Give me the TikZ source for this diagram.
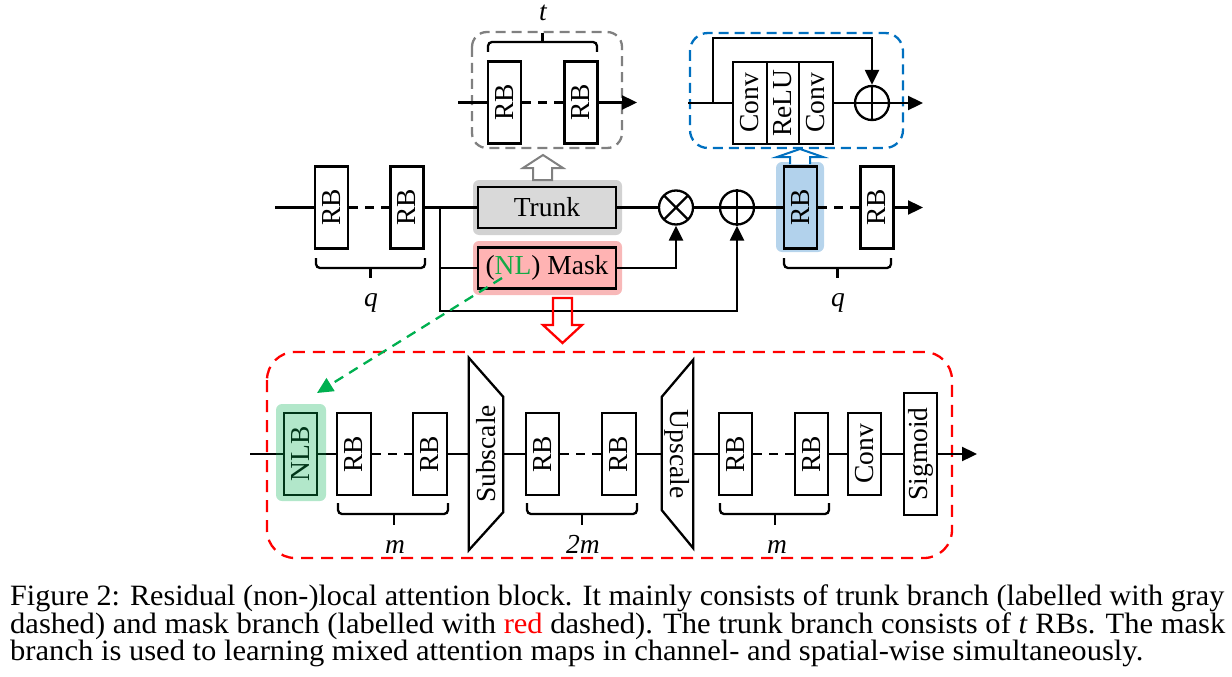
\documentclass[tikz,border=0pt]{standalone}
\usepackage{fontspec}
\setmainfont{Liberation Serif}
\usepackage{graphicx}
\usetikzlibrary{arrows.meta,calc}

\definecolor{cgray}{RGB}{128,128,128}
\definecolor{cblue}{RGB}{0,112,192}
\definecolor{cred}{RGB}{255,0,0}
\definecolor{cgreen}{RGB}{0,176,80}
\definecolor{nlgreen}{RGB}{20,170,70}
\definecolor{trunkfill}{RGB}{217,217,217}
\definecolor{trunkhalo}{RGB}{210,210,210}
\definecolor{maskfill}{RGB}{255,179,179}
\definecolor{maskhalo}{RGB}{248,184,184}
\definecolor{bluefill}{RGB}{178,210,236}
\definecolor{bluehalo}{RGB}{182,212,236}

\newcommand\dfont{\fontsize{27.5}{30}\selectfont}
\newcommand\capfont{\fontsize{29.5}{30}\selectfont}

\tikzset{
 ln/.style={line width=2.3pt},
 arr/.style={ln,-{Triangle[length=15pt,width=14pt]}},
 blk/.style={draw,line width=2.3pt,fill=white,inner sep=0pt,minimum width=33pt,minimum height=82pt,font=\dfont},
 hbox/.style={draw,line width=2.3pt,fill=white,inner sep=0pt,minimum width=138pt,minimum height=41pt,font=\dfont},
 circ/.style={draw,circle,line width=2.3pt,minimum size=34pt,inner sep=0pt},
 dsh/.style={ln,dash pattern=on 9pt off 7pt},
 halo/.style={rounded corners=6pt},
 lab/.style={font=\dfont\itshape,inner sep=0pt,anchor=base},
 brc/.style={ln,rounded corners=4pt},
 frame/.style={line width=2.3pt},
 capline/.style={font=\capfont,inner sep=0pt,anchor=base west},
}

\begin{document}
\begin{tikzpicture}[x=1pt,y=-1pt]
\useasboundingbox (0,0) rectangle (1232,677);

% ---------- halos behind ----------
\fill[trunkhalo,halo] (473,180) rectangle (622,235);
\fill[maskhalo,halo] (473,241) rectangle (622,295);
\fill[bluehalo,halo] (776,162) rectangle (824,252);

% ---------- top gray (trunk detail) ----------
\draw[frame,cgray,dash pattern=on 10pt off 6pt,rounded corners=15pt] (472,32) rectangle (622,148);
\node[blk] (t1) at (504.5,102.5) {\rotatebox{90}{RB}};
\node[blk] (t2) at (581,102.5) {\rotatebox{90}{RB}};
\coordinate (tin) at (458,102.5);
\coordinate (tout) at (637,102.5);
\draw[ln] (tin) -- (t1.west);
\draw[dsh] (t1.east) -- (t2.west);
\draw[arr] (t2.east) -- (tout);
\draw[brc] (488,52) -- (488,42) -- (597,42) -- (597,52);
\draw[ln] (542.5,42) -- (542.5,33);
\node[lab] (tl) at (543,21) {t};
\draw[cgray,line width=2pt,fill=white,line join=miter] (533,180) -- (533,168) -- (523,168) -- (543,155) -- (563,168) -- (552,168) -- (552,180) -- cycle;

% ---------- top blue (RB detail) ----------
\draw[frame,cblue,dash pattern=on 10pt off 6pt,rounded corners=18pt] (690,33) rectangle (903,148);
\node[blk,minimum width=34pt] (c1) at (750,103) {\rotatebox{90}{Conv}};
\node[blk,minimum width=32pt] (re) at (783,103) {\rotatebox{90}{ReLU}};
\node[blk,minimum width=34pt] (c2) at (816,103) {\rotatebox{90}{Conv}};
\node[circ] (bop) at (872,103) {};
\draw[ln] (bop.north) -- (bop.south) (bop.west) -- (bop.east);
\coordinate (bin) at (688,103);
\coordinate (bj) at (713,103);
\coordinate (bout) at (923,103);
\draw[ln] (bin) -- (c1.west);
\draw[arr] (bj) -- ++(0,-65) -| (bop.north);
\draw[ln] (c2.east) -- (bop.west);
\draw[arr] (bop.east) -- (bout);
\draw[cblue,line width=2pt,fill=white,line join=miter] (790,164) -- (790,157) -- (777,157) -- (800,149) -- (823,157) -- (810,157) -- (810,164);

% ---------- main row ----------
\node[blk] (r1) at (331.5,207.5) {\rotatebox{90}{RB}};
\node[blk] (r2) at (407,207.5) {\rotatebox{90}{RB}};
\node[hbox,fill=trunkfill] (trunk) at (547,207.5) {Trunk};
\node[hbox,fill=maskfill] (mask) at (547,268) {(\textcolor{nlgreen}{NL}) Mask};
\node[circ] (ot) at (676,207.5) {};
\draw[ln] ($(ot)+(45:17)$) -- ($(ot)+(225:17)$) ($(ot)+(135:17)$) -- ($(ot)+(315:17)$);
\node[circ] (op) at (737,207.5) {};
\draw[ln] (op.north) -- (op.south) (op.west) -- (op.east);
\node[blk,fill=bluefill] (rbB) at (800.5,207.5) {\rotatebox{90}{RB}};
\node[blk] (rbC) at (877,207.5) {\rotatebox{90}{RB}};
\coordinate (min) at (275,207.5);
\coordinate (j) at (440,207.5);
\coordinate (mout) at (923,207.5);
\draw[ln] (min) -- (r1.west);
\draw[dsh] (r1.east) -- (r2.west);
\draw[ln] (r2.east) -- (trunk.west);
\draw[ln] (trunk.east) -- (ot.west);
\draw[ln] (ot.east) -- (op.west);
\draw[ln] (op.east) -- (rbB.west);
\draw[dsh] (rbB.east) -- (rbC.west);
\draw[arr] (rbC.east) -- (mout);
\draw[ln] (j) |- (mask.west);
\draw[arr] (mask.east) -| (ot.south);
\draw[arr] (j) -- ++(0,103.5) -| (op.south);
\draw[brc] (316,258) -- (316,268) -- (425,268) -- (425,258);
\draw[ln] (370.5,268) -- (370.5,278);
\node[lab] (q1) at (371,306) {q};
\draw[brc] (784,258) -- (784,268) -- (891,268) -- (891,258);
\draw[ln] (837.5,268) -- (837.5,278);
\node[lab] (q2) at (838,306) {q};

% red hollow arrow
\draw[cred,line width=2.3pt,line join=miter] (553,298) -- (553,325) -- (543,325) -- (562.5,343) -- (582,325) -- (572,325) -- (572,298) -- cycle;

% ---------- bottom (mask detail) ----------
\draw[frame,cred,dash pattern=on 12pt off 8pt,rounded corners=28pt] (267,352) rectangle (952,558);
\node[blk] (nlb) at (300.5,454) {\rotatebox{90}{NLB}};
\node[blk,minimum width=34pt] (m1) at (354,454) {\rotatebox{90}{RB}};
\node[blk,minimum width=34pt] (m2) at (430,454) {\rotatebox{90}{RB}};
\node[inner sep=0pt,minimum width=34pt,minimum height=192pt,font=\dfont] (sub) at (486,454) {\rotatebox{90}{Subscale}};
\draw[ln,line join=miter] (sub.north west) -- ($(sub.north east)+(0,39)$) -- ($(sub.south east)+(0,-38)$) -- (sub.south west) -- cycle;
\node[blk] (m3) at (542.5,454) {\rotatebox{90}{RB}};
\node[blk,minimum width=34pt] (m4) at (619,454) {\rotatebox{90}{RB}};
\node[inner sep=0pt,minimum width=31pt,minimum height=188pt,font=\dfont] (up) at (677.5,454) {\rotatebox{-90}{Upscale}};
\draw[ln,line join=miter] ($(up.north west)+(0,37)$) -- (up.north east) -- (up.south east) -- ($(up.south west)+(0,-38)$) -- cycle;
\node[blk] (m5) at (735.5,454) {\rotatebox{90}{RB}};
\node[blk] (m6) at (811.5,454) {\rotatebox{90}{RB}};
\node[blk] (cv) at (864.5,454) {\rotatebox{90}{Conv}};
\node[blk,minimum height=122pt] (sig) at (920.5,454) {\rotatebox{90}{Sigmoid}};
\coordinate (lin) at (250,454);
\coordinate (lout) at (977,454);
\draw[ln] (lin) -- (nlb.west);
\draw[ln] (nlb.east) -- (m1.west);
\draw[dsh] (m1.east) -- (m2.west);
\draw[ln] (m2.east) -- (sub.west);
\draw[ln] (sub.east) -- (m3.west);
\draw[dsh] (m3.east) -- (m4.west);
\draw[ln] (m4.east) -- (up.west);
\draw[ln] (up.east) -- (m5.west);
\draw[dsh] (m5.east) -- (m6.west);
\draw[ln] (m6.east) -- (cv.west);
\draw[ln] (cv.east) -- (sig.west);
\draw[arr] (sig.east) -- (lout);
\draw[brc] (338,503) -- (338,514) -- (448,514) -- (448,503);
\draw[ln] (394,514) -- (394,525);
\node[lab] (ml1) at (395,553) {m};
\draw[brc] (527,503) -- (527,514) -- (637,514) -- (637,503);
\draw[ln] (582,514) -- (582,525);
\node[lab] (ml2) at (583,553) {2m};
\draw[brc] (720,503) -- (720,514) -- (829,514) -- (829,503);
\draw[ln] (775,514) -- (775,525);
\node[lab] (ml3) at (777,553) {m};

% NLB halo (translucent overlay)
\fill[cgreen,opacity=0.3,halo] (276,404) rectangle (326,501);

% green dashed arrow
\coordinate (gs) at (502,278);
\coordinate (gt) at (317,393);
\draw[cgreen,line width=2.3pt,dash pattern=on 10pt off 7pt,-{Triangle[length=16pt,width=15pt]}] (gs) -- (gt);

% ---------- caption ----------
\node[capline] (cap1) at (10,605) {\resizebox{1214pt}{\height}{Figure 2: Residual (non-)local attention block. It mainly consists of trunk branch (labelled with gray}};
\node[capline] (cap2) at (10,633) {\resizebox{1215pt}{\height}{dashed) and mask branch (labelled with \textcolor{cred}{red} dashed). The trunk branch consists of \textit{t} RBs. The mask}};
\node[capline] (cap3) at (10,660) {\resizebox{1133pt}{\height}{branch is used to learning mixed attention maps in channel- and spatial-wise simultaneously.}};
\end{tikzpicture}
\end{document}
